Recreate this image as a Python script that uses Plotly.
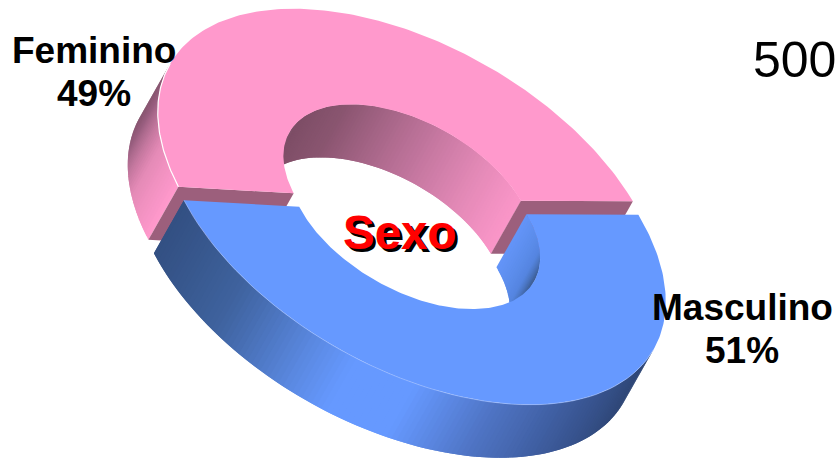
import math
import numpy as np
import plotly.graph_objects as go

# --- data ---
categories = ["Masculino", "Feminino"]
percent = [51, 49]
center_title = "Sexo"
corner_total = "500"

# --- geometry of the tilted ring (pixel frame of the page) ---
CX, CY = 409.0, 200.0
W, H = 251.25, 191.25
RHO = 0.46
SRHO = math.sqrt(1 - RHO ** 2)
HOLE = 0.5
DEPTH = np.array([-30.0, 53.0])
START = -27.0
EXPLODE = {"Masculino": (5.5, 13.5), "Feminino": (0.0, 0.0)}

TOP = {"Masculino": "#6699FF", "Feminino": "#FF99CC"}
END_FACE = "#9C5F7C"


def ring(t_deg, r, off=(0, 0)):
    t = np.radians(np.asarray(t_deg, dtype=float))
    r = np.asarray(r, dtype=float)
    x = CX + off[0] + r * W * np.cos(t)
    y = CY + off[1] + r * H * (RHO * np.cos(t) + SRHO * np.sin(t))
    return x, y


def ramp(v, stops):
    xs = [s[0] for s in stops]
    rgb = [[int(s[1][i:i + 2], 16) for i in (1, 3, 5)] for s in stops]
    c = [np.interp(v, xs, [k[j] for k in rgb]) for j in range(3)]
    return "rgb(%d,%d,%d)" % tuple(int(round(a)) for a in c)


BLUE_OUTER = [(152, "#2F4A7A"), (230, "#3F639F"), (300, "#5A88E0"), (340, "#6699FF"),
              (400, "#6699FF"), (480, "#4F74C4"), (560, "#3C5A9A"), (630, "#2E4676")]
BLUE_INNER = [(-27, "#6395F8"), (-5, "#5585E0"), (8, "#3F639F"), (18, "#30497A")]
PINK_OUTER = [(157, "#FF99CC"), (170, "#E48AB6"), (185, "#9A5F80"), (198, "#7A4A63")]
PINK_INNER = [(285, "#784A62"), (350, "#8A5570"), (430, "#BC7299"), (490, "#E58AB8"), (530, "#FF99CC")]

fig = go.Figure()


def poly(x, y, color):
    fig.add_trace(go.Scatter(x=list(x), y=list(y), mode="lines", fill="toself", fillcolor=color,
                             line=dict(width=0), hoverinfo="skip", showlegend=False))


def wall(t0, t1, r, off, colour_of, n=36):
    """Bands painted in order, each running on under the next so no seams show."""
    ts = np.linspace(t0, t1, n + 1)
    for a, b in zip(ts[:-1], ts[1:]):
        stop = t1 if b == ts[-1] else min(t1, b + (b - a))
        arc = np.linspace(a, stop, 5)
        xa, ya = ring(arc, r, off)
        qx = np.r_[xa, xa[::-1] + DEPTH[0], xa[0]]
        qy = np.r_[ya, ya[::-1] + DEPTH[1], ya[0]]
        poly(qx, qy, colour_of((a + b) / 2, float(np.mean(qx))))


def end_face(t, off, color):
    xs, ys = ring([t, t], [1.0, HOLE], off)
    poly([xs[0], xs[1], xs[1] + DEPTH[0], xs[0] + DEPTH[0], xs[0]],
         [ys[0], ys[1], ys[1] + DEPTH[1], ys[0] + DEPTH[1], ys[0]], color)


def top_face(t0, t1, off, color, edge_from, edge_to, edge_color, edge_w):
    ts = np.linspace(t0, t1, 180)
    ox, oy = ring(ts, 1.0, off)
    ix, iy = ring(ts[::-1], HOLE, off)
    poly(np.r_[ox, ix, ox[0]], np.r_[oy, iy, oy[0]], color)
    ex, ey = ring(np.linspace(edge_from, edge_to, 60), 1.0, off)
    fig.add_trace(go.Scatter(x=list(ex), y=list(ey), mode="lines", hoverinfo="skip", showlegend=False,
                             line=dict(color=edge_color, width=edge_w)))


total = sum(percent)
split = START + 360.0 * percent[0] / total
end = START + 360.0

# Feminino slice (drawn first; the other slice sits in front of it)
off_f = EXPLODE["Feminino"]
wall(split, 198, 1.0, off_f, lambda t, x: ramp(t, PINK_OUTER), n=40)
wall(198, end, HOLE, off_f, lambda t, x: ramp(x + 15, PINK_INNER), n=90)
end_face(split, off_f, END_FACE)
end_face(end, off_f, END_FACE)
top_face(split, end, off_f, TOP["Feminino"], split, 198, "#FFFFFF", 1.2)

# Masculino slice
off_m = EXPLODE["Masculino"]
wall(18, split, 1.0, off_m, lambda t, x: ramp(x, BLUE_OUTER), n=120)
wall(START, 18, HOLE, off_m, lambda t, x: ramp(t, BLUE_INNER), n=30)
top_face(START, split, off_m, TOP["Masculino"], 18, split, "#A9C4FF", 0.6)

SANS = "Liberation Sans, Arial, sans-serif"


def label(text, x, y, size=37, color="#000000", bold=True, **font_extra):
    fig.add_annotation(x=x, y=y, text=f"<b>{text}</b>" if bold else text, showarrow=False,
                       xanchor="center", yanchor="middle",
                       font=dict(family=SANS, size=size, color=color, **font_extra))


label(categories[1], 94, 50)
label(f"{percent[1]}%", 94, 93)
label(categories[0], 742, 307)
label(f"{percent[0]}%", 742, 350)
label(center_title, 400, 232, size=47.5, color="#FF0000", shadow="3px 3px 0px #000000")
label(corner_total, 794, 60, size=50, bold=False)

fig.update_layout(width=838, height=458, autosize=False,
                  margin=dict(l=0, r=0, t=0, b=0),
                  paper_bgcolor="white", plot_bgcolor="white", showlegend=False,
                  xaxis=dict(range=[0, 838], visible=False, fixedrange=True),
                  yaxis=dict(range=[458, 0], visible=False, fixedrange=True))
fig.write_html("out.html", config={"displayModeBar": False},
               post_script="document.body.style.margin='0';document.documentElement.style.overflow='hidden';")
